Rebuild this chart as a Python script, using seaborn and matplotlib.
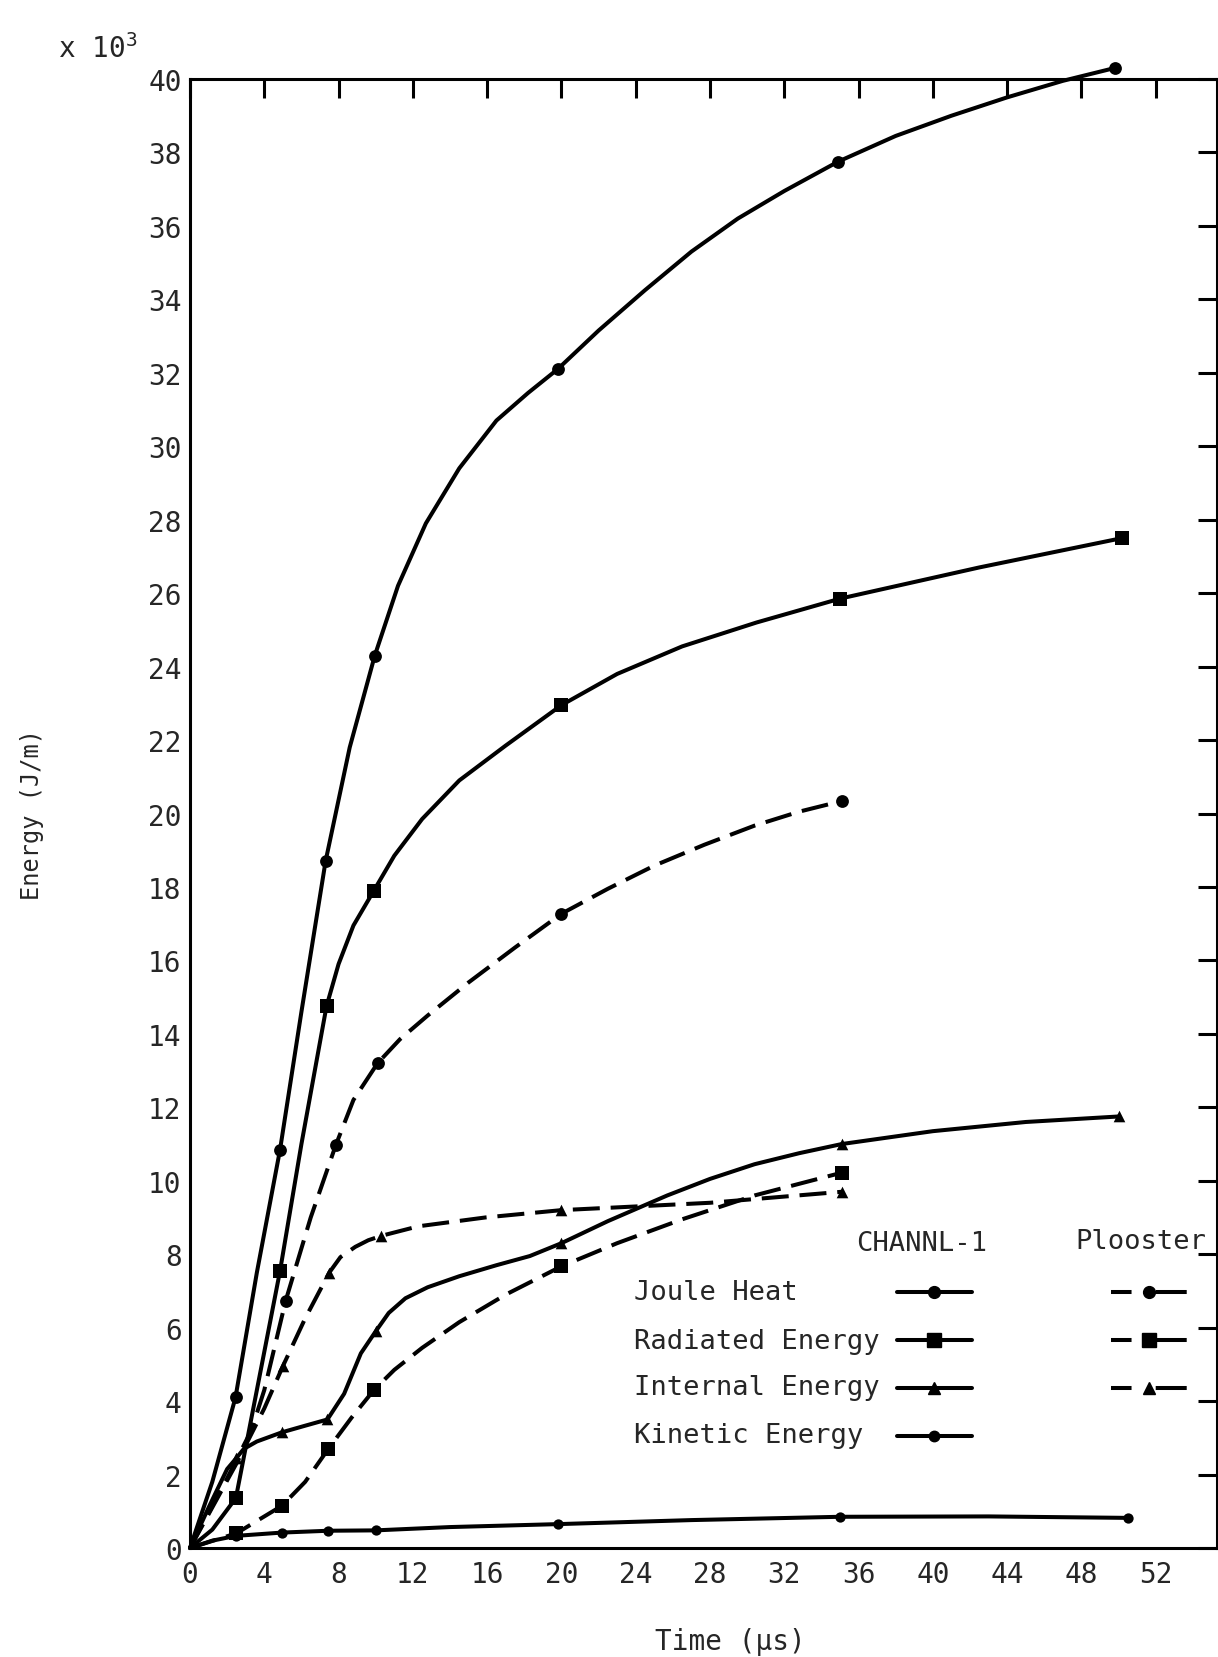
import numpy as np
import pandas as pd
import seaborn as sns
import matplotlib.pyplot as plt
from matplotlib.lines import Line2D

# values: time in us, energy in 10^3 J/m
# CHANNL-1 (solid lines)
jh_ch_t = [2.45, 4.85, 7.3, 9.95, 19.8, 34.9, 49.8]
jh_ch_e = [4.1, 10.85, 18.7, 24.3, 32.1, 37.75, 40.3]
jh_ch_curve_t = [0, 1.2, 2.45, 3.6, 4.85, 6.0, 7.3, 8.6, 9.95, 11.2, 12.7, 14.5, 16.5, 18.2,
                 19.8, 22.0, 24.5, 27.0, 29.5, 32.0, 34.9, 38.0, 41.0, 44.0, 47.0, 49.8]
jh_ch_curve_e = [0, 1.8, 4.1, 7.5, 10.85, 14.6, 18.7, 21.8, 24.3, 26.2, 27.9, 29.4, 30.7, 31.45,
                 32.1, 33.15, 34.25, 35.3, 36.2, 36.95, 37.75, 38.45, 39.0, 39.5, 39.95, 40.3]

rad_ch_t = [2.47, 4.85, 7.35, 9.9, 20.0, 35.0, 50.2]
rad_ch_e = [1.36, 7.55, 14.75, 17.9, 22.95, 25.85, 27.5]
rad_ch_curve_t = [0, 1.2, 2.47, 3.6, 4.85, 6.0, 7.35, 8.0, 8.8, 9.9, 11.0, 12.5, 14.5, 17.0,
                  20.0, 23.0, 26.5, 30.5, 35.0, 42.5, 50.2]
rad_ch_curve_e = [0, 0.5, 1.36, 4.3, 7.55, 11.0, 14.75, 15.9, 16.95, 17.9, 18.85, 19.85, 20.9,
                  21.85, 22.95, 23.8, 24.55, 25.2, 25.85, 26.7, 27.5]

int_ch_t = [2.5, 4.95, 7.4, 10.0, 20.0, 35.1, 50.0]
int_ch_e = [2.45, 3.15, 3.5, 5.9, 8.3, 11.0, 11.75]
int_ch_curve_t = [0, 1.0, 2.0, 2.5, 2.9, 3.6, 4.95, 6.2, 7.4, 8.3, 9.2, 10.0, 10.7, 11.6,
                  12.8, 14.5, 16.5, 18.3, 20.0, 22.5, 25.7, 28.0, 30.4, 32.8, 35.1, 40.0,
                  45.0, 50.0]
int_ch_curve_e = [0, 1.1, 2.15, 2.45, 2.7, 2.9, 3.15, 3.33, 3.5, 4.2, 5.3, 5.9, 6.4, 6.8,
                  7.1, 7.4, 7.7, 7.95, 8.3, 8.9, 9.6, 10.05, 10.45, 10.75, 11.0, 11.35,
                  11.6, 11.75]

kin_ch_t = [2.47, 4.95, 7.45, 10.0, 19.8, 35.0, 50.5]
kin_ch_e = [0.33, 0.42, 0.47, 0.48, 0.65, 0.85, 0.82]
kin_ch_curve_t = [0, 1.2, 2.47, 4.95, 7.45, 10.0, 14.0, 19.8, 27.0, 35.0, 43.0, 50.5]
kin_ch_curve_e = [0, 0.2, 0.33, 0.42, 0.47, 0.48, 0.57, 0.65, 0.76, 0.85, 0.86, 0.82]

# Plooster (dashed lines)
jh_pl_t = [5.15, 7.85, 10.1, 20.0, 35.1]
jh_pl_e = [6.73, 10.97, 13.2, 17.27, 20.34]
jh_pl_curve_t = [0, 2.0, 3.3, 4.0, 5.15, 6.5, 7.85, 8.8, 10.1, 11.3, 12.8, 15.0, 17.5, 20.0,
                 22.5, 25.0, 27.7, 30.4, 32.8, 35.1]
jh_pl_curve_e = [0, 1.9, 3.2, 4.3, 6.73, 9.0, 10.97, 12.2, 13.2, 13.85, 14.5, 15.4, 16.35, 17.27,
                 17.95, 18.58, 19.15, 19.67, 20.05, 20.34]

rad_pl_t = [2.5, 4.95, 7.45, 9.9, 20.0, 35.1]
rad_pl_e = [0.4, 1.15, 2.7, 4.3, 7.67, 10.22]
rad_pl_curve_t = [0, 2.5, 4.95, 6.2, 7.45, 8.7, 9.9, 11.0, 12.5, 14.5, 17.0, 20.0, 23.0,
                  26.5, 30.4, 35.1]
rad_pl_curve_e = [0, 0.4, 1.15, 1.8, 2.7, 3.55, 4.3, 4.85, 5.45, 6.15, 6.9, 7.67, 8.3,
                  8.95, 9.6, 10.22]

int_pl_t = [5.0, 7.5, 10.3, 20.0, 35.1]
int_pl_e = [4.95, 7.5, 8.5, 9.2, 9.7]
int_pl_curve_t = [0, 2.5, 4.0, 5.0, 6.2, 7.5, 8.1, 8.9, 9.6, 10.3, 12.3, 15.9, 20.0, 24.0,
                  28.0, 35.1]
int_pl_curve_e = [0, 2.3, 3.8, 4.95, 6.25, 7.5, 7.92, 8.2, 8.38, 8.5, 8.76, 9.0, 9.2, 9.3,
                  9.4, 9.7]

row_labels = ['Joule Heat', 'Radiated Energy', 'Internal Energy', 'Kinetic Energy']
x_ticks = list(range(0, 53, 4))
y_ticks = list(range(0, 41, 2))

sns.set_style("white")
plt.rcParams['font.family'] = ['DejaVu Sans Mono', 'DejaVu Sans']
plt.rcParams['mathtext.default'] = 'regular'

fig = plt.figure(figsize=(12.18, 16.58), dpi=100)
ax = fig.add_axes([190 / 1218, 1 - 1549 / 1658, 1027 / 1218, 1469 / 1658])

LW = 2.9
DASH = (0, (6.7, 2.7))
curves = [
    (jh_ch_curve_t, jh_ch_curve_e, jh_ch_t, jh_ch_e, 'o', 85, '-'),
    (rad_ch_curve_t, rad_ch_curve_e, rad_ch_t, rad_ch_e, 's', 110, '-'),
    (int_ch_curve_t, int_ch_curve_e, int_ch_t, int_ch_e, '^', 70, '-'),
    (kin_ch_curve_t, kin_ch_curve_e, kin_ch_t, kin_ch_e, 'o', 55, '-'),
    (jh_pl_curve_t, jh_pl_curve_e, jh_pl_t, jh_pl_e, 'o', 85, DASH),
    (rad_pl_curve_t, rad_pl_curve_e, rad_pl_t, rad_pl_e, 's', 110, DASH),
    (int_pl_curve_t, int_pl_curve_e, int_pl_t, int_pl_e, '^', 70, DASH),
]
for ct, ce, mt, me, mk, sz, ls in curves:
    sns.lineplot(x=ct, y=ce, sort=False, estimator=None, color='black', lw=LW,
                 linestyle=ls, ax=ax, clip_on=False)
    sns.scatterplot(x=mt, y=me, marker=mk, s=sz, color='black', linewidth=0,
                    ax=ax, clip_on=False, zorder=3)

ax.set_xlim(0, 55.3)
ax.set_ylim(0, 40)
ax.set_xticks(x_ticks)
ax.set_yticks(y_ticks)
ax.tick_params(direction='in', length=14, width=2.2, top=True, right=True,
               labelsize=20, color='black')
ax.tick_params(axis='x', pad=9)
ax.tick_params(axis='y', pad=6)
for sp in ax.spines.values():
    sp.set_linewidth(2.2)
    sp.set_color('black')

ax.set_xlabel('Time (\u00b5s)', fontsize=20)
ax.xaxis.set_label_coords(0.526, -0.054)
ax.set_ylabel('Energy (J/m)', fontsize=17)
ax.yaxis.set_label_coords(-0.142, 0.5)
fig.text(58 / 1218, 1 - 58 / 1658, r'x 10$^3$', fontsize=20, ha='left', va='baseline')

# legend: row labels on the left, CHANNL-1 and Plooster samples in two columns
row_y = [0.1743, 0.1409, 0.1096, 0.0769]
for lab, yy in zip(row_labels, row_y):
    ax.text(0.432, yy, lab, transform=ax.transAxes, fontsize=19.5, va='center', ha='left')
ax.text(0.712, 0.2076, 'CHANNL-1', transform=ax.transAxes, fontsize=19.5, va='center', ha='center')
ax.text(0.926, 0.209, 'Plooster', transform=ax.transAxes, fontsize=19.5, va='center', ha='center')

marks = [('o', 8.5), ('s', 10), ('^', 8), ('o', 7.5)]
solid_h = [Line2D([], [], color='black', lw=LW, marker=m, markersize=s) for m, s in marks]
dash_h = [Line2D([], [], color='black', lw=LW, ls=(0, (5.1, 6.0, 7.7, 2)), marker=m, markersize=s)
          for m, s in marks[:3]]
blank = Line2D([], [], alpha=0)
ax.legend(handles=solid_h + dash_h + [blank], labels=[' '] * 8, ncol=2, loc='upper left',
          bbox_to_anchor=(0.688, 0.1817), frameon=False, handlelength=2.8, handletextpad=0,
          columnspacing=4.53, labelspacing=0.82, borderpad=0, borderaxespad=0, fontsize=19.5)

fig.savefig('out.png', dpi=100)
